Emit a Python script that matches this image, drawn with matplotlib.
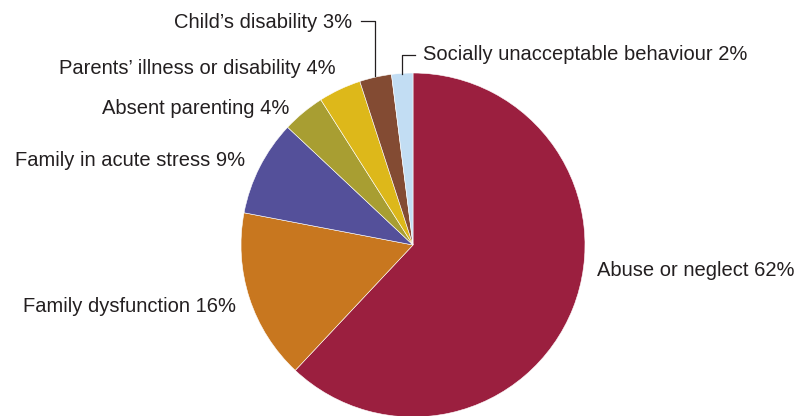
import matplotlib
matplotlib.use('Agg')
import matplotlib.pyplot as plt

# data
categories = ['Abuse or neglect', 'Family dysfunction', 'Family in acute stress',
              'Absent parenting', "Parents\u2019 illness or disability",
              "Child\u2019s disability", 'Socially unacceptable behaviour']
shares = [62, 16, 9, 4, 4, 3, 2]
colours = ['#9B1F3F', '#C8771F', '#54509A', '#A89E32', '#DDB81A', '#834B33', '#C2DDF3']

W, H = 808, 416
fig = plt.figure(figsize=(W / 100, H / 100), dpi=100)
ax = fig.add_axes([0, 0, 1, 1])

cx, cy, r = 413, H - 245, 172
ax.pie(shares, colors=colours, startangle=90, counterclock=False,
       center=(cx, cy), radius=r, frame=True,
       wedgeprops=dict(edgecolor='white', linewidth=0.4))
ax.set_xlim(0, W)
ax.set_ylim(0, H)
ax.set_aspect('equal')
ax.axis('off')

txt = dict(fontsize=14.5, color='#231F20', family='Liberation Sans', va='center')
lab = ['%s %d%%' % (c, s) for c, s in zip(categories, shares)]
ax.text(597, H - 271, lab[0], ha='left', **txt)
ax.text(236, H - 306, lab[1], ha='right', **txt)
ax.text(245, H - 161, lab[2], ha='right', **txt)
ax.text(289, H - 108, lab[3], ha='right', **txt)
ax.text(336, H - 69, lab[4], ha='right', **txt)
ax.text(352, H - 22, lab[5], ha='right', **txt)
ax.text(423, H - 55, lab[6], ha='left', **txt)

# leader lines
ax.plot([361, 375, 375], [H - 21, H - 21, H - 76], color='#231F20', lw=0.9)
ax.plot([415, 402, 402], [H - 55, H - 55, H - 74], color='#231F20', lw=0.9)

fig.savefig('out.png', dpi=100)
